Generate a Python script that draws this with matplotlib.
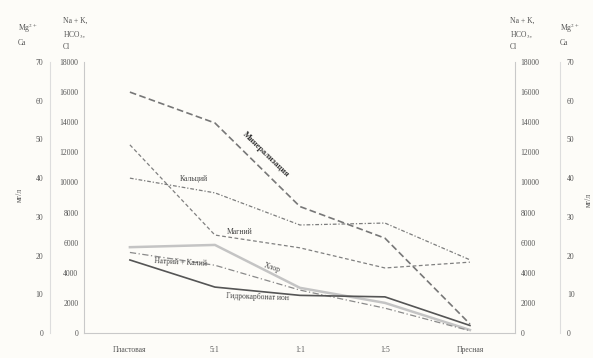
import matplotlib
matplotlib.use("Agg")
import matplotlib.pyplot as plt

plt.rcParams["font.family"] = ["Liberation Serif", "DejaVu Serif"]
plt.rcParams["mathtext.fontset"] = "stix"

# categories (dilution of formation water with fresh water)
categories = ["Пластовая", "5:1", "1:1", "1:5", "Пресная"]

# mg/l, left/right inner scale (0..18000)
mineral = [16000, 13950, 8400, 6300, 600]
chlor = [5700, 5850, 3000, 2000, 200]
na_k = [5350, 4500, 2850, 1650, 150]
hco3 = [4850, 3050, 2500, 2400, 500]

# mg/l, outer scale (0..70)
calcium = [40.0, 36.2, 27.9, 28.4, 18.9]
magnesium = [48.6, 25.3, 22.0, 16.8, 18.3]

main_ticks = [0, 2000, 4000, 6000, 8000, 10000, 12000, 14000, 16000, 18000]
outer_ticks = [0, 10, 20, 30, 40, 50, 60, 70]

BG = "#fdfcf8"
SPINE = "#c9c9c9"
TXT = "#555555"
FS = 5.5

fig = plt.figure(figsize=(5.93, 3.58), dpi=100, facecolor=BG)
ax = fig.add_axes([84/593, 1-333/358, 431/593, 271/358], facecolor=BG)
x = list(range(len(categories)))

ax.set_xlim(-0.54, 4.53)
ax.set_ylim(0, 18000)
ax.plot(x, mineral, color="#777777", lw=1.2, ls=(0, (4, 2)))
ax.plot(x, chlor, color="#c4c4c4", lw=1.8)
ax.plot(x, na_k, color="#8a8a8a", lw=0.9, ls=(0, (5, 2, 1, 2)))
ax.plot(x, hco3, color="#555555", lw=1.2)

# outer axis for Mg / Ca
ax2 = ax.twinx()
ax2.set_ylim(0, 70)
ax2.plot(x, calcium, color="#7d7d7d", lw=0.9, ls=(0, (3, 1.5, 1, 1.5)))
ax2.plot(x, magnesium, color="#808080", lw=0.9, ls=(0, (3, 2)))

ax.set_xticks(x)
ax.set_xticklabels(categories)
ax.set_yticks(main_ticks)
ax.set_yticklabels([str(t) for t in main_ticks])
ax.tick_params(axis="x", length=0, pad=9, labelsize=FS, labelcolor=TXT)
ax.tick_params(axis="y", length=0, pad=4, left=True, right=True,
               labelleft=True, labelright=True, labelsize=FS, labelcolor=TXT)
ax.spines["top"].set_visible(False)
for s in ("left", "right", "bottom"):
    ax.spines[s].set_color(SPINE)
    ax.spines[s].set_linewidth(0.8)

ax2.set_yticks(outer_ticks)
ax2.set_yticklabels([str(t) for t in outer_ticks])
ax2.tick_params(axis="y", length=0, pad=5, left=True, right=True,
                labelleft=True, labelright=True, labelsize=FS, labelcolor=TXT)
ax2.spines["left"].set_position(("axes", -34/431))
ax2.spines["right"].set_position(("axes", 1 + 45/431))
ax2.spines["left"].set_visible(True)
for s in ("left", "right"):
    ax2.spines[s].set_color("#dddddd")
    ax2.spines[s].set_linewidth(0.8)
for s in ("top", "bottom"):
    ax2.spines[s].set_visible(False)

# line labels
lab = dict(fontsize=FS, color="#444444", ha="center", va="center")
fig.text(266/593, 1-155/358, "Минерализация", rotation=-44, fontsize=6, color="#333333",
         ha="center", va="center", fontweight="bold")
fig.text(194/593, 1-179/358, "Кальций", **lab)
fig.text(240/593, 1-232/358, "Магний", **lab)
fig.text(272/593, 1-268/358, "Хлор", rotation=-18, **lab)
fig.text(181/593, 1-262/358, "Натрий + Калий", rotation=-3, **lab)
fig.text(258/593, 1-297/358, "Гидрокарбонат ион", rotation=-2, **lab)

# axis headers
hdr = dict(fontsize=FS, color=TXT, va="top", ha="left", linespacing=1.6)
fig.text(18/593, 1-22/358, "Mg$^{2+}$\nCa", **hdr)
fig.text(63/593, 1-17/358, "Na + K,\nHCO$_3$,\nCl", **hdr)
fig.text(510/593, 1-17/358, "Na + K,\nHCO$_3$,\nCl", **hdr)
fig.text(560/593, 1-22/358, "Mg$^{2+}$\nCa", **hdr)
fig.text(20/593, 1-195/358, "мг/л", rotation=90, fontsize=FS, color=TXT, ha="center", va="center")
fig.text(589/593, 1-200/358, "мг/л", rotation=90, fontsize=FS, color=TXT, ha="center", va="center")

fig.savefig("out.png", dpi=100, facecolor=BG)
